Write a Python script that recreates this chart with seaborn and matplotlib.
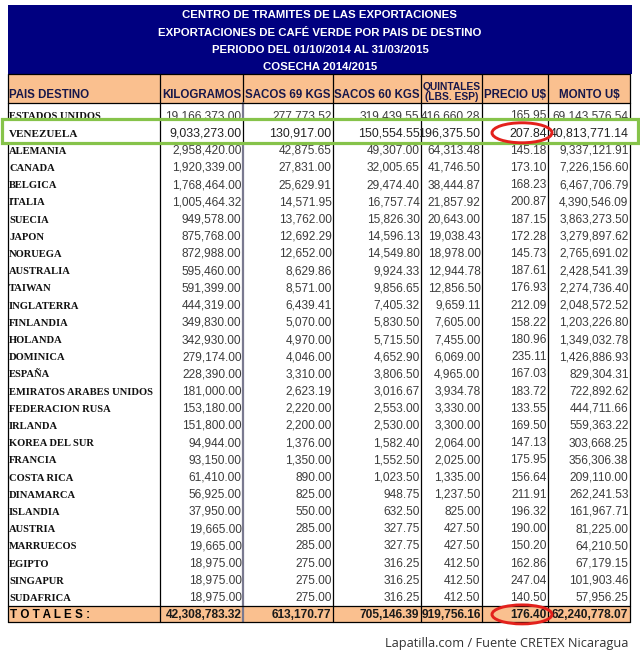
import matplotlib.pyplot as plt
import seaborn as sns
from matplotlib.patches import Rectangle, Ellipse

# table content
titulos = [
    "CENTRO DE TRAMITES DE LAS EXPORTACIONES",
    "EXPORTACIONES DE CAFÉ VERDE POR PAIS DE DESTINO",
    "PERIODO DEL 01/10/2014 AL 31/03/2015",
    "COSECHA 2014/2015",
]
encabezados = ["PAIS DESTINO", "KILOGRAMOS", "SACOS 69 KGS", "SACOS 60 KGS",
               "QUINTALES\n(LBS. ESP)", "PRECIO U$", "MONTO U$"]
paises = ["ESTADOS UNIDOS", "VENEZUELA", "ALEMANIA", "CANADA", "BELGICA", "ITALIA",
          "SUECIA", "JAPON", "NORUEGA", "AUSTRALIA", "TAIWAN", "INGLATERRA",
          "FINLANDIA", "HOLANDA", "DOMINICA", "ESPAÑA", "EMIRATOS ARABES UNIDOS",
          "FEDERACION RUSA", "IRLANDA", "KOREA DEL SUR", "FRANCIA", "COSTA RICA",
          "DINAMARCA", "ISLANDIA", "AUSTRIA", "MARRUECOS", "EGIPTO", "SINGAPUR",
          "SUDAFRICA"]
kilogramos = [19166373.00, 9033273.00, 2958420.00, 1920339.00, 1768464.00, 1005464.32,
              949578.00, 875768.00, 872988.00, 595460.00, 591399.00, 444319.00,
              349830.00, 342930.00, 279174.00, 228390.00, 181000.00, 153180.00,
              151800.00, 94944.00, 93150.00, 61410.00, 56925.00, 37950.00,
              19665.00, 19665.00, 18975.00, 18975.00, 18975.00]
sacos69 = [277773.52, 130917.00, 42875.65, 27831.00, 25629.91, 14571.95, 13762.00,
           12692.29, 12652.00, 8629.86, 8571.00, 6439.41, 5070.00, 4970.00, 4046.00,
           3310.00, 2623.19, 2220.00, 2200.00, 1376.00, 1350.00, 890.00, 825.00,
           550.00, 285.00, 285.00, 275.00, 275.00, 275.00]
sacos60 = [319439.55, 150554.55, 49307.00, 32005.65, 29474.40, 16757.74, 15826.30,
           14596.13, 14549.80, 9924.33, 9856.65, 7405.32, 5830.50, 5715.50, 4652.90,
           3806.50, 3016.67, 2553.00, 2530.00, 1582.40, 1552.50, 1023.50, 948.75,
           632.50, 327.75, 327.75, 316.25, 316.25, 316.25]
quintales = [416660.28, 196375.50, 64313.48, 41746.50, 38444.87, 21857.92, 20643.00,
             19038.43, 18978.00, 12944.78, 12856.50, 9659.11, 7605.00, 7455.00,
             6069.00, 4965.00, 3934.78, 3330.00, 3300.00, 2064.00, 2025.00, 1335.00,
             1237.50, 825.00, 427.50, 427.50, 412.50, 412.50, 412.50]
precio = [165.95, 207.84, 145.18, 173.10, 168.23, 200.87, 187.15, 172.28, 145.73,
          187.61, 176.93, 212.09, 158.22, 180.96, 235.11, 167.03, 183.72, 133.55,
          169.50, 147.13, 175.95, 156.64, 211.91, 196.32, 190.00, 150.20, 162.86,
          247.04, 140.50]
monto = [69143576.54, 40813771.14, 9337121.91, 7226156.60, 6467706.79, 4390546.09,
         3863273.50, 3279897.62, 2765691.02, 2428541.39, 2274736.40, 2048572.52,
         1203226.80, 1349032.78, 1426886.93, 829304.31, 722892.62, 444711.66,
         559363.22, 303668.25, 356306.38, 209110.00, 262241.53, 161967.71,
         81225.00, 64210.50, 67179.15, 101903.46, 57956.25]
totales = [42308783.32, 613170.77, 705146.39, 919756.16, 176.40, 62240778.07]
etiqueta_total = "T O T A L E S :"
fuente = "Lapatilla.com / Fuente CRETEX Nicaragua"
destacado = "VENEZUELA"

sns.set_style("white")

navy = "#000080"
peach = "#fac08f"
num_color = "#3c3c3c"

edges = [8, 160, 243, 333, 421, 482, 548, 630]
top_hdr, bot_hdr = 74, 103
pitch = 17.2
n = len(paises)


def row_y(i):
    return bot_hdr + i * pitch + 12.6


yt = row_y(n)
tot_top, bottom = yt - 8.8, yt + 7.6

fig = plt.figure(figsize=(6.4, 6.61), dpi=100)
ax = fig.add_axes([0, 0, 1, 1])
ax.set_xlim(0, 640)
ax.set_ylim(661, 0)
ax.axis("off")

# title block
ax.add_patch(Rectangle((edges[0], 5), edges[-1] + 2 - edges[0], top_hdr - 5,
                       facecolor=navy, edgecolor="none", zorder=0))
for k, t in enumerate(titulos):
    ax.text(320, 15.5 + k * 17.3, t, ha="center", va="center", color="white",
            fontsize=8.2, fontweight="bold", family="Liberation Sans")

# header row
ax.add_patch(Rectangle((edges[0], top_hdr), edges[-1] - edges[0], bot_hdr - top_hdr,
                       facecolor=peach, edgecolor="none", zorder=0))
for j, h in enumerate(encabezados):
    if j == 0:
        x, ha = edges[0] + 1, "left"
    else:
        x, ha = (edges[j] + edges[j + 1]) / 2, "center"
    fs = 7.4 if "\n" in h else 8.3
    ax.text(x, 101.5, h, ha=ha, va="bottom", color="#17174a", fontsize=fs,
            fontweight="bold", family="Liberation Sans", linespacing=0.95)

# totals row background
ax.add_patch(Rectangle((edges[0], tot_top), edges[-1] - edges[0], bottom - tot_top,
                       facecolor=peach, edgecolor="none", zorder=0))

# grid lines
for j, x in enumerate(edges):
    ax.plot([x, x], [top_hdr, bot_hdr], color="black", lw=0.9, zorder=1)
    col = "#7a7a90" if j == 2 else "black"
    lw = 1.6 if j == 2 else 0.9
    ax.plot([x, x], [bot_hdr, bottom], color=col, lw=lw, zorder=1)
for y in [top_hdr, bot_hdr, tot_top, bottom]:
    ax.plot([edges[0], edges[-1]], [y, y], color="black", lw=0.9, zorder=1)

columnas = [kilogramos, sacos69, sacos60, quintales, precio, monto]

# data rows (baseline a few px under the row centre)
for i, pais in enumerate(paises):
    z = 4 if pais == destacado else 2
    fs_num = 8.9 if pais == destacado else 8.6
    fs_name = 8.0 if pais == destacado else 7.6
    y = row_y(i) + 3.8
    ax.text(edges[0] + 1, y, pais, ha="left", va="baseline", color="#111111",
            fontsize=fs_name, fontweight="bold", family="Liberation Serif", zorder=z)
    for j, vals in enumerate(columnas):
        ax.text(edges[j + 2] - 1.5, y, f"{vals[i]:,.2f}", ha="right", va="baseline",
                color="#222222" if pais == destacado else num_color,
                fontsize=fs_num, family="Liberation Sans", zorder=z)

# totals
ax.text(edges[0] + 2, yt + 3.8, etiqueta_total, ha="left", va="baseline",
        color="black", fontsize=8.4, fontweight="bold", family="Liberation Sans")
for j, v in enumerate(totales):
    ax.text(edges[j + 2] - 1.5, yt + 3.8, f"{v:,.2f}", ha="right", va="baseline",
            color="#1a1a1a", fontsize=8.6, fontweight="bold", family="Liberation Sans")

# highlight box pasted over the Venezuela row
iv = paises.index(destacado)
yv = row_y(iv)
ax.add_patch(Rectangle((2, yv - 14), 636, 24, facecolor="white", edgecolor="none",
                       zorder=3))
for x in edges[1:-1]:
    ax.plot([x, x], [yv - 14, yv + 10], color="black", lw=0.9, zorder=3.5)
ax.add_patch(Rectangle((2, yv - 14), 636, 24, facecolor="none", edgecolor="#86c34a",
                       lw=2.3, zorder=5))

# red circles around the price values
ax.add_patch(Ellipse((522, yv), 60, 20, facecolor="none", edgecolor="#e3211c",
                     lw=2.1, zorder=6))
ax.add_patch(Ellipse((522, yt), 60, 19, facecolor="none", edgecolor="#e3211c",
                     lw=2.1, zorder=6))

ax.text(628, 643, fuente, ha="right", va="center", color="#333333", fontsize=9.2,
        family="Open Sans")

fig.savefig("out.png", dpi=100, facecolor="white")
